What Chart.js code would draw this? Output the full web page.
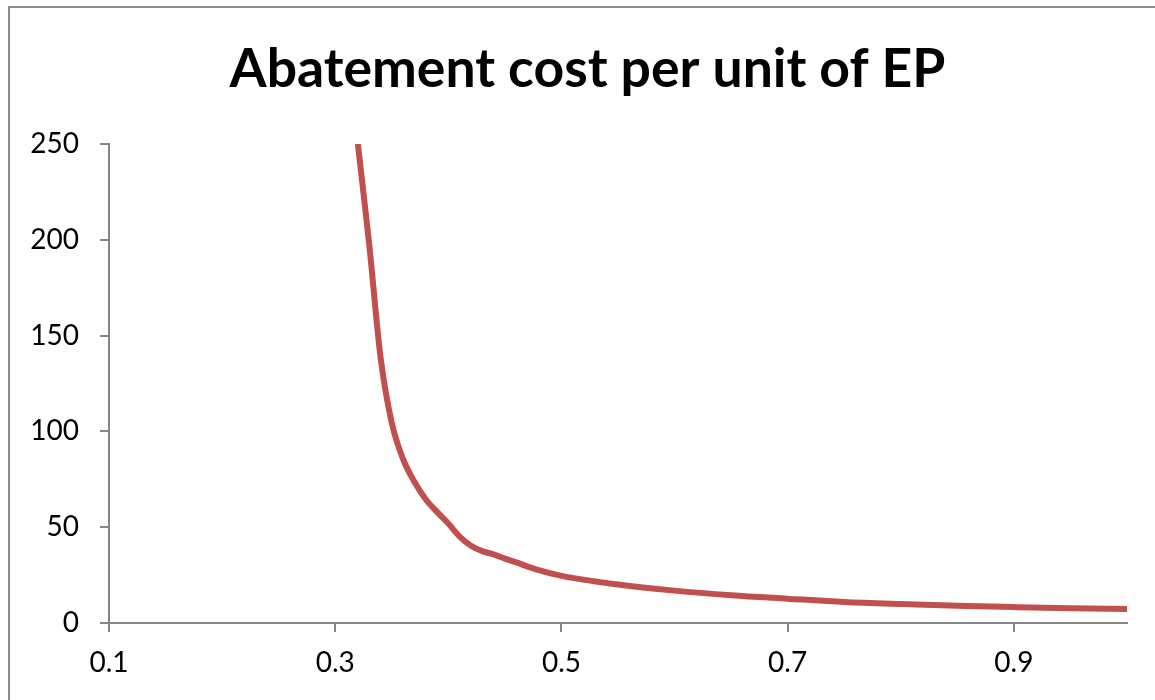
<!DOCTYPE html>
<html>
<head>
<meta charset="utf-8">
<script src="https://cdn.jsdelivr.net/npm/chart.js@4.4.1/dist/chart.umd.min.js"></script>
<style>
  html, body { margin: 0; padding: 0; background: #fff; overflow: hidden; }
  #wrap { position: relative; width: 1155px; height: 700px; }
  #frame { position: absolute; left: 8px; top: 6px; width: 1200px; height: 760px;
           border: 2px solid #8c8c8c; box-sizing: border-box; pointer-events: none; }
  canvas { position: absolute; left: 0; top: 0; }
</style>
</head>
<body>
<div id="wrap">
  <canvas id="c" width="1155" height="700"></canvas>
  <div id="frame"></div>
</div>
<script>
const chartTitle = 'Abatement cost per unit of EP';
const efficiency = [0.32, 0.33, 0.34, 0.35, 0.36, 0.37, 0.38, 0.39, 0.40, 0.41, 0.42, 0.43, 0.44, 0.45, 0.46, 0.48, 0.50, 0.55, 0.60, 0.65, 0.70, 0.75, 0.80, 0.85, 0.90, 0.95, 1.00];
const costPerUnit = [250, 198, 139, 104.4, 85.5, 73.7, 64.6, 58.0, 51.9, 45.1, 40.3, 37.5, 35.8, 33.6, 31.6, 27.6, 24.6, 20.1, 16.9, 14.5, 12.7, 11.0, 9.9, 9.0, 8.3, 7.7, 7.3];
const xTickValues = [0.1, 0.3, 0.5, 0.7, 0.9];
const xTickLabels = ['0.1', '0.3', '0.5', '0.7', '0.9'];
const yTickValues = [0, 50, 100, 150, 200, 250];
const yTickLabels = ['0', '50', '100', '150', '200', '250'];

const axisGrey = '#868686';
const labelFont = { family: 'Lato, "Open Sans", sans-serif', size: 28 };

// Centre the title over the frame rather than over the canvas minus right padding
const shiftTitle = {
  id: 'shiftTitle',
  afterLayout(chart) {
    if (chart.titleBlock) { chart.titleBlock.left = 48; }
  }
};

new Chart(document.getElementById('c'), {
  type: 'line',
  data: {
    datasets: [{
      label: chartTitle,
      data: efficiency.map((x, i) => ({ x: x, y: costPerUnit[i] })),
      borderColor: '#C0504D',
      backgroundColor: '#C0504D',
      borderWidth: 6,
      pointRadius: 0,
      cubicInterpolationMode: 'monotone',
      fill: false
    }]
  },
  options: {
    responsive: false,
    animation: false,
    devicePixelRatio: 1,
    layout: { padding: { left: 0, right: 28, top: 0, bottom: 0 } },
    plugins: {
      legend: { display: false },
      tooltip: { enabled: false },
      title: {
        display: true,
        text: chartTitle,
        color: '#000',
        font: { family: 'Lato, "Open Sans", sans-serif', size: 53.5, weight: 'bold' },
        padding: { top: 38, bottom: 41.8 }
      }
    },
    scales: {
      x: {
        type: 'linear',
        min: 0.1,
        max: 1.0,
        afterBuildTicks: (scale) => { scale.ticks = xTickValues.map(v => ({ value: v })); },
        afterFit: (scale) => { scale.height = 77; },
        grid: { drawOnChartArea: false, drawTicks: true, tickLength: 9, color: axisGrey, lineWidth: 2 },
        border: { display: true, color: axisGrey, width: 2 },
        ticks: {
          color: '#000',
          font: labelFont,
          padding: 14,
          maxRotation: 0,
          autoSkip: false,
          callback: (v, i) => xTickLabels[i]
        }
      },
      y: {
        type: 'linear',
        min: 0,
        max: 250,
        afterBuildTicks: (scale) => { scale.ticks = yTickValues.map(v => ({ value: v })); },
        afterFit: (scale) => { scale.width = 109; },
        grid: { drawOnChartArea: false, drawTicks: true, tickLength: 9, color: axisGrey, lineWidth: 2 },
        border: { display: true, color: axisGrey, width: 2 },
        ticks: {
          color: '#000',
          font: labelFont,
          padding: 21,
          autoSkip: false,
          callback: (v, i) => yTickLabels[i]
        }
      }
    }
  },
  plugins: [shiftTitle]
});
</script>
</body>
</html>
